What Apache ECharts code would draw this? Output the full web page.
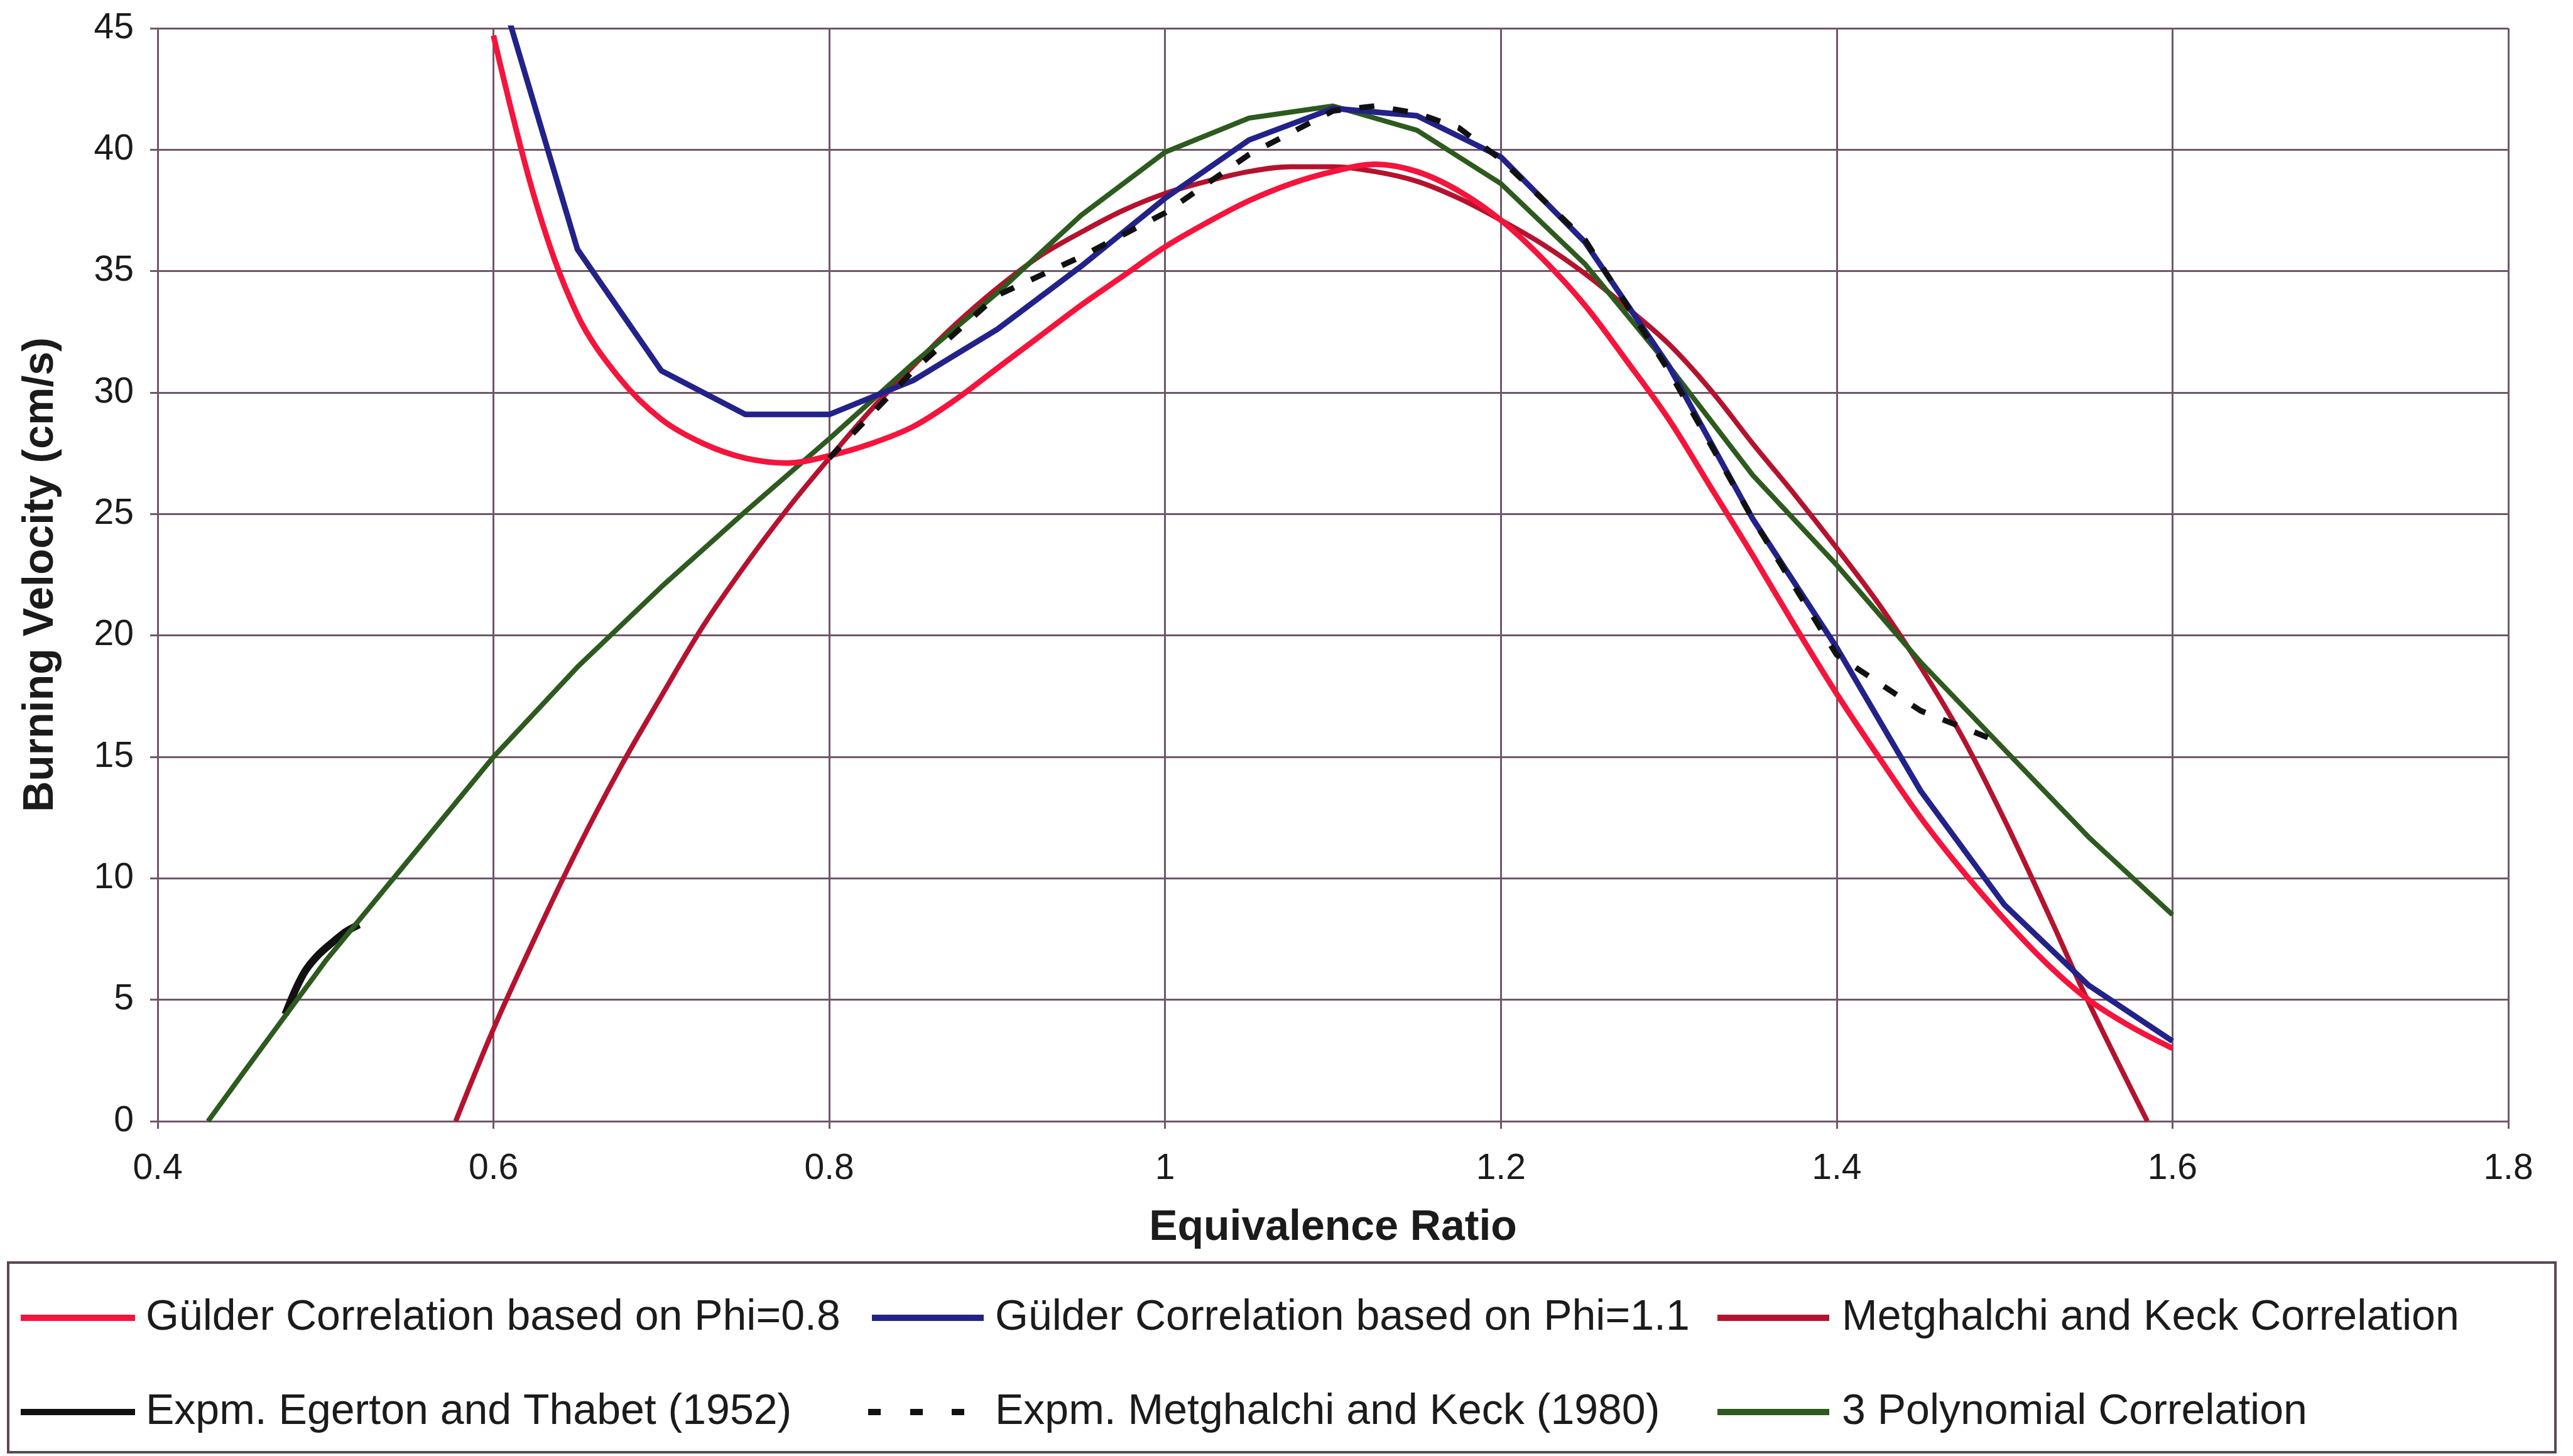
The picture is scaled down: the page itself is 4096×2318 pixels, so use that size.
<!DOCTYPE html>
<html>
<head>
<meta charset="utf-8">
<title>Burning Velocity vs Equivalence Ratio</title>
<script src="https://cdn.jsdelivr.net/npm/echarts@6/dist/echarts.min.js"></script>
<style>
  html, body { margin: 0; padding: 0; background: #fff; }
  #chart { width: 4096px; height: 2318px; }
</style>
</head>
<body>
<div id="chart"></div>
<script>
// axis ticks
const phiTicks = [0.4, 0.6, 0.8, 1, 1.2, 1.4, 1.6, 1.8]
const velTicks = [0, 5, 10, 15, 20, 25, 30, 35, 40, 45]

// Gülder correlation based on Phi=0.8
const gulder08Phi = [0.6, 0.625, 0.65, 0.675, 0.7, 0.725, 0.75, 0.775, 0.8, 0.825, 0.85, 0.875, 0.9, 0.925, 0.95, 0.975, 1.0, 1.025, 1.05, 1.075, 1.1, 1.125, 1.15, 1.175, 1.2, 1.225, 1.25, 1.275, 1.3, 1.325, 1.35, 1.375, 1.4, 1.425, 1.45, 1.475, 1.5, 1.525, 1.55, 1.575, 1.6]
const gulder08Vel = [44.7, 37.9, 33.2, 30.6, 28.9, 27.9, 27.3, 27.1, 27.4, 27.9, 28.6, 29.7, 31.0, 32.3, 33.6, 34.8, 36.0, 37.0, 37.9, 38.6, 39.1, 39.4, 39.1, 38.3, 37.1, 35.5, 33.6, 31.3, 28.9, 26.1, 23.3, 20.4, 17.6, 15.0, 12.5, 10.3, 8.3, 6.5, 5.0, 3.9, 3.0]

// Gülder correlation based on Phi=1.1
const gulder11Phi = [0.6, 0.65, 0.7, 0.75, 0.8, 0.85, 0.9, 0.95, 1.0, 1.05, 1.1, 1.15, 1.2, 1.25, 1.3, 1.35, 1.4, 1.45, 1.5, 1.55, 1.6]
const gulder11Vel = [47.5, 35.9, 30.9, 29.1, 29.1, 30.5, 32.6, 35.2, 38.0, 40.4, 41.7, 41.4, 39.7, 36.2, 31.1, 24.8, 19.5, 13.6, 8.9, 5.6, 3.3]

// Metghalchi and Keck correlation
const mkCorrPhi = [0.5775, 0.6, 0.625, 0.65, 0.675, 0.7, 0.725, 0.75, 0.775, 0.8, 0.825, 0.85, 0.875, 0.9, 0.925, 0.95, 0.975, 1.0, 1.025, 1.05, 1.075, 1.1, 1.125, 1.15, 1.175, 1.2, 1.225, 1.25, 1.275, 1.3, 1.325, 1.35, 1.375, 1.4, 1.425, 1.45, 1.475, 1.5, 1.525, 1.55, 1.585]
const mkCorrVel = [0, 3.8, 7.6, 11.2, 14.5, 17.5, 20.4, 22.9, 25.2, 27.3, 29.3, 31.1, 32.8, 34.3, 35.6, 36.6, 37.5, 38.2, 38.7, 39.1, 39.3, 39.3, 39.1, 38.7, 38.0, 37.1, 36.1, 34.9, 33.5, 32.0, 30.1, 27.9, 25.8, 23.6, 21.3, 18.7, 15.8, 12.4, 8.7, 4.9, 0]

// Expm. Egerton and Thabet (1952)
const egertonPhi = [0.476, 0.482, 0.488, 0.495, 0.503, 0.512, 0.52]
const egertonVel = [4.4, 5.4, 6.2, 6.8, 7.3, 7.8, 8.1]

// Expm. Metghalchi and Keck (1980)
const mkExpPhi = [0.8, 0.85, 0.9, 0.95, 1.0, 1.05, 1.1, 1.125, 1.15, 1.175, 1.2, 1.25, 1.3, 1.35, 1.4, 1.45, 1.49]
const mkExpVel = [27.3, 30.9, 34.0, 35.6, 37.4, 39.8, 41.6, 41.8, 41.5, 40.9, 39.6, 36.3, 30.9, 24.8, 19.2, 16.9, 15.8]

// 3 Polynomial correlation
const polyPhi = [0.43, 0.45, 0.5, 0.55, 0.6, 0.65, 0.7, 0.75, 0.8, 0.85, 0.9, 0.95, 1.0, 1.05, 1.1, 1.15, 1.2, 1.25, 1.3, 1.35, 1.4, 1.45, 1.5, 1.55, 1.6]
const polyVel = [0, 1.9, 6.6, 10.8, 15.0, 18.7, 22.0, 25.1, 28.1, 31.2, 34.1, 37.3, 39.9, 41.3, 41.8, 40.8, 38.6, 35.3, 31.1, 26.6, 22.9, 18.9, 15.3, 11.7, 8.5]

const FONT = '"Liberation Sans", Arial, sans-serif'
const TEXT = '#1b1b1b'
const GRID = '#6f5768'

const names = {
  g08: 'Gülder Correlation based on Phi=0.8',
  g11: 'Gülder Correlation based on Phi=1.1',
  mk: 'Metghalchi and Keck Correlation',
  eg: 'Expm. Egerton and Thabet (1952)',
  mkx: 'Expm. Metghalchi and Keck (1980)',
  poly: '3 Polynomial Correlation'
}

function zip(xs, ys) {
  return xs.map((x, i) => [x, ys[i]])
}

function lineSeries(name, xs, ys, color, width, extra) {
  return Object.assign({
    name: name,
    type: 'line',
    data: zip(xs, ys),
    symbol: 'none',
    showSymbol: false,
    color: color,
    itemStyle: { color: color },
    lineStyle: { color: color, width: width },
    animation: false
  }, extra || {})
}

function legendItem(name, left, top, itemWidth, icon, gap) {
  return {
    data: [name],
    left: left,
    top: top,
    orient: 'horizontal',
    padding: 0,
    itemWidth: itemWidth,
    itemHeight: 10,
    icon: icon,
    selectedMode: false,
    textStyle: { fontFamily: FONT, fontSize: 68, color: TEXT, padding: [0, 0, 0, gap] }
  }
}

const solidIcon = w => 'path://M0,0H' + w + 'V10H0Z'
const dashIcon = 'path://M0,0H20V10H0Z M67,0H87V10H67Z M133,0H153V10H133Z'

const chart = echarts.init(document.getElementById('chart'))

chart.setOption({
  backgroundColor: '#fff',
  animation: false,
  grid: { left: 251, right: 103, top: 45, bottom: 533, outerBoundsMode: 'none' },
  xAxis: {
    type: 'value',
    min: phiTicks[0],
    max: phiTicks[phiTicks.length - 1],
    interval: 0.2,
    name: 'Equivalence Ratio',
    nameLocation: 'middle',
    nameGap: 136,
    nameTextStyle: { fontFamily: FONT, fontSize: 68, fontWeight: 'bold', color: TEXT },
    axisLine: { show: true, onZero: false, lineStyle: { color: GRID, width: 3 } },
    axisTick: { show: true, length: 12, lineStyle: { color: GRID, width: 3 } },
    axisLabel: {
      margin: 48, fontFamily: FONT, fontSize: 57, color: TEXT,
      formatter: v => String(+v.toFixed(1))
    },
    splitLine: { show: true, lineStyle: { color: GRID, width: 3 } }
  },
  yAxis: {
    type: 'value',
    min: velTicks[0],
    max: velTicks[velTicks.length - 1],
    interval: 5,
    name: 'Burning Velocity (cm/s)',
    nameLocation: 'middle',
    nameGap: 152,
    nameTextStyle: { fontFamily: FONT, fontSize: 68, fontWeight: 'bold', color: TEXT },
    axisLine: { show: true, lineStyle: { color: GRID, width: 3 } },
    axisTick: { show: true, length: 12, lineStyle: { color: GRID, width: 3 } },
    axisLabel: { margin: 38, fontFamily: FONT, fontSize: 57, color: TEXT },
    splitLine: { show: true, lineStyle: { color: GRID, width: 3 } }
  },
  legend: [
    legendItem(names.g08, 33, 2064, 182, solidIcon(182), 12),
    legendItem(names.g11, 1388, 2064, 178, solidIcon(178), 13),
    legendItem(names.mk, 2734, 2064, 178, solidIcon(178), 15),
    legendItem(names.eg, 33, 2214, 182, solidIcon(182), 12),
    legendItem(names.mkx, 1382, 2214, 153, dashIcon, 44),
    legendItem(names.poly, 2734, 2214, 178, solidIcon(178), 15)
  ],
  graphic: [{
    type: 'rect',
    shape: { x: 13, y: 2010, width: 4055, height: 302 },
    style: { fill: 'none', stroke: '#5a4754', lineWidth: 4 },
    silent: true
  }],
  series: [
    lineSeries(names.mk, mkCorrPhi, mkCorrVel, '#b5122e', 8, { smooth: 0.35 }),
    lineSeries(names.eg, egertonPhi, egertonVel, '#111111', 12, { smooth: 0.3 }),
    lineSeries(names.poly, polyPhi, polyVel, '#2d5a1e', 8),
    lineSeries(names.g08, gulder08Phi, gulder08Vel, '#f5143c', 9, { smooth: 0.35 }),
    lineSeries(names.g11, gulder11Phi, gulder11Vel, '#22228a', 9),
    lineSeries(names.mkx, mkExpPhi, mkExpVel, '#111111', 9, {
      lineStyle: { color: '#111111', width: 9, type: [24, 30] }
    })
  ]
})
</script>
</body>
</html>
